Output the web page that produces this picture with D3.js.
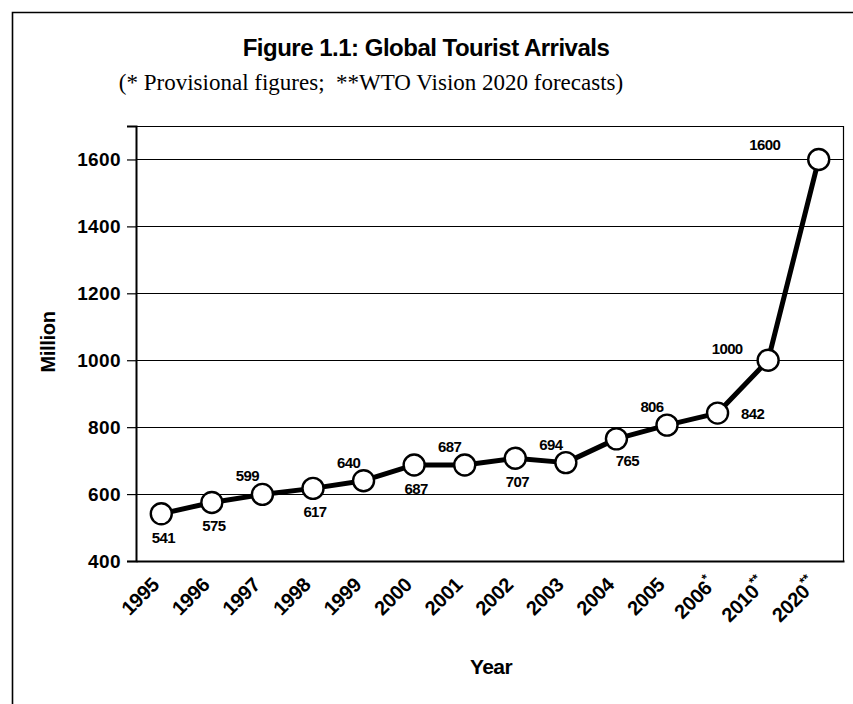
<!DOCTYPE html>
<html>
<head>
<meta charset="utf-8">
<script src="https://cdn.jsdelivr.net/npm/d3@7"></script>
<style>
  html, body { margin: 0; padding: 0; background: #fff; }
  svg { display: block; }
</style>
</head>
<body>
<svg id="chart" width="853" height="704"></svg>
<script>
// Year categories (suffix marks provisional / forecast values)
const years = ["1995", "1996", "1997", "1998", "1999", "2000", "2001",
               "2002", "2003", "2004", "2005", "2006", "2010", "2020"];
const yearMarks = ["", "", "", "", "", "", "", "", "", "", "", "*", "**", "**"];
// International tourist arrivals, millions
const arrivals = [541, 575, 599, 617, 640, 687, 687, 707, 694, 765, 806, 842, 1000, 1600];
// Value-axis ticks
const yTicks = [400, 600, 800, 1000, 1200, 1400, 1600];
// Where each value label sits relative to its point
const labelSide = ["below", "below", "aboveLeft", "below", "aboveLeft", "below", "aboveLeft",
                   "below", "aboveLeft", "belowRight", "aboveLeft", "right", "left", "farLeft"];

const labelOffset = {
  below:      { dx: 2,   dy: 29 },
  belowRight: { dx: 11,  dy: 27 },
  aboveLeft:  { dx: -15, dy: -13 },
  right:      { dx: 35,  dy: 6 },
  left:       { dx: -41, dy: -6 },
  farLeft:    { dx: -54, dy: -9 }
};

const svg = d3.select("#chart");
const font = "'Liberation Sans', Arial, Helvetica, sans-serif";

const plot = { left: 136, right: 844, top: 126, bottom: 561 };

const x = d3.scaleBand().domain(years).range([plot.left, plot.right]);
const y = d3.scaleLinear().domain([400, 1700]).range([plot.bottom, plot.top]);
const cx = d => x(d) + x.bandwidth() / 2;

// outer frame
svg.append("path")
  .attr("d", `M12.5,704 V12.5 H853`)
  .attr("fill", "none").attr("stroke", "#000").attr("stroke-width", 1.6);

// titles
svg.append("text")
  .attr("x", 426).attr("y", 56)
  .attr("text-anchor", "middle")
  .attr("font-family", font).attr("font-weight", "bold")
  .attr("font-size", 24).attr("letter-spacing", -0.5)
  .text("Figure 1.1: Global Tourist Arrivals");

svg.append("text")
  .attr("x", 371).attr("y", 90)
  .attr("text-anchor", "middle")
  .attr("font-family", "'Liberation Serif', 'Times New Roman', serif")
  .attr("font-size", 23)
  .attr("xml:space", "preserve")
  .text("(* Provisional figures;  **WTO Vision 2020 forecasts)");

// gridlines
svg.append("g")
  .selectAll("line")
  .data(yTicks.filter(t => t > 400))
  .join("line")
  .attr("x1", plot.left).attr("x2", plot.right)
  .attr("y1", d => Math.round(y(d)) + 0.5).attr("y2", d => Math.round(y(d)) + 0.5)
  .attr("stroke", "#000").attr("stroke-width", 1);

// plot frame (top and right)
svg.append("path")
  .attr("d", `M${plot.left},${plot.top + 0.5} H${plot.right - 0.5} V${plot.bottom}`)
  .attr("fill", "none").attr("stroke", "#000").attr("stroke-width", 1.2);

// y axis
const yAxis = svg.append("g")
  .attr("transform", `translate(${plot.left},0)`)
  .call(d3.axisLeft(y).tickValues(yTicks).tickSize(9).tickPadding(6).tickFormat(d3.format("d")));
yAxis.select(".domain").attr("stroke-width", 2);
yAxis.selectAll(".tick line").attr("stroke-width", 1.2);
yAxis.selectAll(".tick text")
  .attr("font-family", font).attr("font-weight", "bold")
  .attr("font-size", 19).attr("letter-spacing", 0.4).attr("fill", "#000");

// x axis
const xAxis = svg.append("g")
  .attr("transform", `translate(0,${plot.bottom})`)
  .call(d3.axisBottom(x).tickSize(0).tickFormat(""));
xAxis.select(".domain").attr("stroke-width", 2);

svg.append("g")
  .selectAll("text")
  .data(years)
  .join("text")
  .attr("transform", d => `translate(${cx(d) - 1},${plot.bottom + 25}) rotate(-45)`)
  .attr("text-anchor", "end")
  .attr("font-family", font).attr("font-weight", "bold")
  .attr("font-size", 20).attr("letter-spacing", -0.3)
  .each(function (d, i) {
    const t = d3.select(this);
    t.append("tspan").text(d);
    if (yearMarks[i]) {
      t.append("tspan").attr("font-size", 13).attr("dy", -9).text(yearMarks[i]);
    }
  });

// axis titles
svg.append("text")
  .attr("transform", "translate(55,342) rotate(-90)")
  .attr("text-anchor", "middle")
  .attr("font-family", font).attr("font-weight", "bold")
  .attr("font-size", 20).attr("letter-spacing", -0.3)
  .text("Million");

svg.append("text")
  .attr("x", 491).attr("y", 674)
  .attr("text-anchor", "middle")
  .attr("font-family", font).attr("font-weight", "bold")
  .attr("font-size", 21).attr("letter-spacing", -0.6)
  .text("Year");

// series line
const line = d3.line().x((d, i) => cx(years[i])).y(d => y(d));
svg.append("path")
  .datum(arrivals)
  .attr("d", line)
  .attr("fill", "none").attr("stroke", "#000")
  .attr("stroke-width", 5).attr("stroke-linejoin", "round");

// markers
svg.append("g")
  .selectAll("circle")
  .data(arrivals)
  .join("circle")
  .attr("cx", (d, i) => cx(years[i]))
  .attr("cy", d => y(d))
  .attr("r", 10.5)
  .attr("fill", "#fff").attr("stroke", "#000").attr("stroke-width", 2.4);

// value labels
svg.append("g")
  .selectAll("text")
  .data(arrivals)
  .join("text")
  .attr("x", (d, i) => cx(years[i]) + labelOffset[labelSide[i]].dx)
  .attr("y", (d, i) => y(d) + labelOffset[labelSide[i]].dy)
  .attr("text-anchor", "middle")
  .attr("font-family", font).attr("font-weight", "bold")
  .attr("font-size", 15).attr("letter-spacing", -0.6)
  .text(d => d);
</script>
</body>
</html>
